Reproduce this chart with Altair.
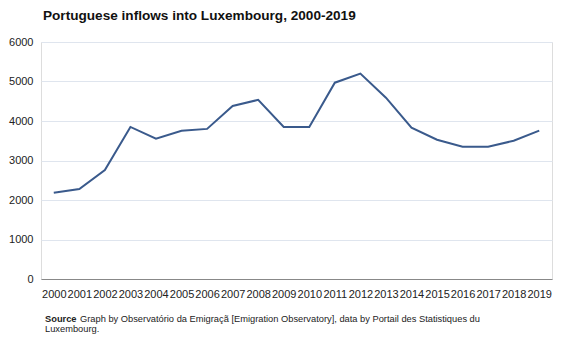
import altair as alt
import pandas as pd

years = [str(y) for y in range(2000, 2020)]
inflows = [2185, 2280, 2760, 3850, 3550, 3755, 3800, 4380, 4535, 3850,
           3850, 4970, 5200, 4590, 3830, 3525, 3350, 3350, 3500, 3755]

df = pd.DataFrame({"year": years, "inflows": inflows})

W, H = 511, 237

base = alt.Chart(df)

line = base.mark_line(color="#3a5a8c", strokeWidth=2).encode(
    x=alt.X("year:N", sort=None, title=None,
            scale=alt.Scale(paddingInner=0, paddingOuter=0),
            axis=alt.Axis(labelAngle=0, ticks=False, domain=True, domainColor="#888888",
                          labelFont="Liberation Sans", labelFontSize=11, labelColor="#222222",
                          labelPadding=9, grid=False, labelOverlap=False)),
    y=alt.Y("inflows:Q", title=None,
            scale=alt.Scale(domain=[0, 6000], nice=False),
            axis=alt.Axis(values=[0, 1000, 2000, 3000, 4000, 5000, 6000], ticks=False,
                          format="d",
                          domain=False, gridColor="#dfe5ee", gridWidth=1,
                          labelFont="Liberation Sans", labelFontSize=11, labelColor="#222222",
                          labelPadding=8)),
)

src_df = pd.DataFrame({"t": ["x"]})
source_bold = alt.Chart(src_df).mark_text(
    text="Source", font="Liberation Sans", fontSize=9.3, fontWeight="bold",
    align="left", baseline="middle", color="#222222"
).encode(x=alt.value(4), y=alt.value(H + 40))
source_rest = alt.Chart(src_df).mark_text(
    text="Graph by Observatório da Emigraçã [Emigration Observatory], data by Portail des Statistiques du",
    font="Liberation Sans", fontSize=9.3, align="left", baseline="middle", color="#222222"
).encode(x=alt.value(39), y=alt.value(H + 40))
source_line2 = alt.Chart(src_df).mark_text(
    text="Luxembourg.", font="Liberation Sans", fontSize=9.3, align="left",
    baseline="middle", color="#222222"
).encode(x=alt.value(4), y=alt.value(H + 50))

chart = alt.layer(line, source_bold, source_rest, source_line2).properties(
    width=W, height=H,
    autosize=alt.AutoSizeParams(type="none"),
    padding={"left": 41, "top": 42, "right": 15, "bottom": 61},
    title=alt.TitleParams(
        "Portuguese inflows into Luxembourg, 2000-2019",
        anchor="start", frame="group", font="Liberation Sans", fontSize=13.6,
        fontWeight="bold", color="#111111", offset=13, dx=2
    ),
).configure_view(stroke=None).configure(background="white")

chart.save("out.html", embed_options={"renderer": "svg", "actions": False})
